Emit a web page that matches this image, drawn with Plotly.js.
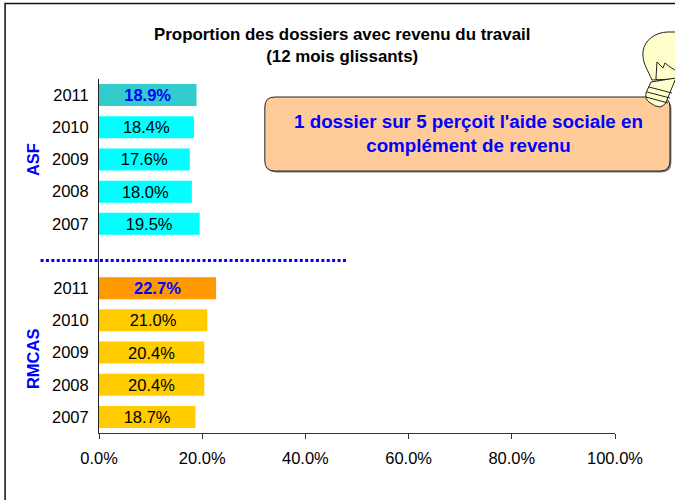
<!DOCTYPE html>
<html>
<head>
<meta charset="utf-8">
<script src="https://cdn.plot.ly/plotly-3.0.1.min.js"></script>
<style>html,body{margin:0;padding:0;background:#fff;overflow:hidden}#chart{width:675px;height:500px}</style>
</head>
<body>
<div id="chart"></div>
<script>
const yearLabels = ["2007","2008","2009","2010","2011","","2007","2008","2009","2010","2011"];
const rowPositions = [0,1,2,3,4,5,6,7,8,9,10];
const rmcasValues = [18.7,20.4,20.4,21.0,22.7];
const asfValues = [19.5,18.0,17.6,18.4,18.9];
const rmcasRows = [0,1,2,3,4];
const asfRows = [6,7,8,9,10];
const rmcasColors = ["#FFCC00","#FFCC00","#FFCC00","#FFCC00","#FF9900"];
const asfColors = ["#00FFFF","#00FFFF","#00FFFF","#00FFFF","#33CCCC"];
const xTicks = [0,20,40,60,80,100];
const xTickLabels = ["0.0%","20.0%","40.0%","60.0%","80.0%","100.0%"];
const titleLines = "Proportion des dossiers avec revenu du travail<br>(12 mois glissants)";
const calloutText = "1 dossier sur 5 perçoit l'aide sociale en<br>complément de revenu";

const W = 675, H = 500;
const M = {l:98.5, r:60, t:79, b:67};
const PW = W - M.l - M.r, PH = H - M.t - M.b;
const px = x => (x - M.l) / PW;
const py = y => 1 - (y - M.t) / PH;
const P = (x,y) => px(x).toFixed(5) + "," + py(y).toFixed(5);
const FONT = "Liberation Sans, Arial, sans-serif";
const BLUE = "#0000FF";

function labels(values){
  return values.map((v,i) => {
    const s = v.toFixed(1) + "%";
    return i === values.length-1 ? "<b>"+s+"</b>" : s;
  });
}
function labelColors(values){
  return values.map((v,i) => i === values.length-1 ? BLUE : "#000000");
}
function barTrace(values, rows, colors){
  return {
    type:"bar", orientation:"h", x:values, y:rows,
    marker:{color:colors, line:{width:0}},
    text:labels(values), textposition:"inside", insidetextanchor:"middle",
    textangle:0, constraintext:"none",
    textfont:{family:FONT,size:16.5,color:labelColors(values)},
    width:0.684, hoverinfo:"skip", showlegend:false, cliponaxis:false
  };
}
function roundRect(x0,y0,x1,y1,r){
  return "M"+P(x0+r,y0)+" L"+P(x1-r,y0)+" Q"+P(x1,y0)+" "+P(x1,y0+r)+" L"+P(x1,y1-r)+" Q"+P(x1,y1)+" "+P(x1-r,y1)+
         " L"+P(x0+r,y1)+" Q"+P(x0,y1)+" "+P(x0,y1-r)+" L"+P(x0,y0+r)+" Q"+P(x0,y0)+" "+P(x0+r,y0)+" Z";
}
const paperShape = o => Object.assign({xref:"paper",yref:"paper"},o);
const bulbBody = "M"+P(652,80)+" C"+P(648,70)+" "+P(642,63)+" "+P(643,52)+" C"+P(644,40)+" "+P(656,32)+" "+P(668,32)+
                 " L"+P(680,32)+" L"+P(680,76)+" L"+P(674,79)+" Z";
const bulbBase = "M"+P(651,82)+" L"+P(646,93)+" Q"+P(645,99)+" "+P(649,102)+" Q"+P(655,107)+" "+P(660,107)+" Q"+P(666,105)+" "+P(667,100)+" L"+P(676,78)+" Z";
const line = (x0,y0,x1,y1,w,c,dash) => paperShape({type:"line",x0:px(x0),y0:py(y0),x1:px(x1),y1:py(y1),line:{color:c,width:w,dash:dash||"solid"}});
const shapes = [
  paperShape({type:"rect",x0:px(4.5),y0:py(3.5),x1:px(700),y1:py(520),line:{color:"#111",width:1.5},fillcolor:"rgba(0,0,0,0)",layer:"below"}),
  line(40,260.5,346,260.5,3,BLUE,"3px,2.4px"),
  paperShape({type:"path",path:roundRect(266,99,671.5,172.5,10),fillcolor:"#777",line:{width:0}}),
  paperShape({type:"path",path:roundRect(264.5,97,670,171,10),fillcolor:"#FFCC99",line:{color:"#222",width:1}}),
  paperShape({type:"path",path:bulbBody,fillcolor:"#FFFFCC",line:{color:"#222",width:1}}),
  paperShape({type:"path",path:bulbBase,fillcolor:"#FFFFCC",line:{color:"#222",width:1}}),
  line(649,87,672,93,1,"#222"),
  line(647,92,670,98,1,"#222"),
  line(646,97,668,103,1,"#222"),
  paperShape({type:"path",path:"M"+P(656,79)+" L"+P(657,62)+" L"+P(663,68)+" L"+P(665,63)+" L"+P(670,67)+" L"+P(675,70),line:{color:"#222",width:1}}),
  line(656,79,659,81,1,"#222")
];
const ann = (x,y,text,size,color,rot) => ({xref:"paper",yref:"paper",x:px(x),y:py(y),text:text,showarrow:false,
  xanchor:"center",yanchor:"middle",textangle:rot||0,font:{family:FONT,size:size,color:color},align:"center"});
const annotations = [
  ann(341.5,45.5,"<b>"+titleLines+"</b>",16.9,"#000"),
  ann(468,133.5,"<b>"+calloutText+"</b>",18.8,BLUE),
  ann(32,159.5,"<b>ASF</b>",16.5,BLUE,-90),
  ann(32,358.5,"<b>RMCAS</b>",16.5,BLUE,-90)
];
const layout = {
  width:W,height:H,margin:{l:M.l,r:M.r,t:M.t,b:M.b,pad:0},
  paper_bgcolor:"#fff",plot_bgcolor:"#fff",bargap:0.32,showlegend:false,
  xaxis:{range:[0,100],tickmode:"array",tickvals:xTicks,ticktext:xTickLabels,showgrid:false,zeroline:false,
    showline:true,linecolor:"#333",linewidth:1,ticks:"outside",ticklen:5,tickcolor:"#333",tickwidth:1,
    tickfont:{family:FONT,size:16.5,color:"#000"},ticklabelstandoff:5},
  yaxis:{range:[-0.5,10.5],tickmode:"array",tickvals:rowPositions,ticktext:yearLabels,showgrid:false,zeroline:false,
    showline:true,linecolor:"#222",linewidth:1,ticks:"",
    tickfont:{family:FONT,size:16.5,color:"#000"},ticklabelstandoff:6},
  shapes:shapes,annotations:annotations
};
Plotly.newPlot("chart",[barTrace(rmcasValues,rmcasRows,rmcasColors),barTrace(asfValues,asfRows,asfColors)],layout,{displayModeBar:false,staticPlot:true});
</script>
</body>
</html>
